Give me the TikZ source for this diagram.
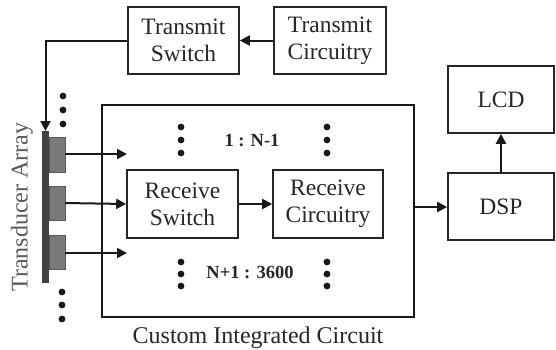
\documentclass[tikz,border=0pt]{standalone}
\usepackage{fontspec}
\setmainfont{Liberation Serif}
\usetikzlibrary{arrows.meta}
\begin{document}
\begin{tikzpicture}[x=1pt,y=-1pt,
  box/.style={draw=black!85, line width=1.6pt, rectangle, inner sep=0pt, align=center,
    font=\fontsize{23.5}{27}\selectfont, text=black!85},
  conn/.style={line width=2pt, draw=black!90, -{Triangle[length=10pt,width=10pt]}},
  dotc/.style={fill=black!90, draw=none},
  elem/.style={fill=black!52, draw=black!65, line width=0.6pt},
  lbl/.style={font=\fontsize{18.5}{22}\selectfont\bfseries, text=black!85}]
\useasboundingbox (0,0) rectangle (556,349);
% boxes
\node[box, minimum width=111pt, minimum height=67pt] (ts) at (183.5,40.5) {Transmit\\Switch};
\node[box, minimum width=112pt, minimum height=67pt] (tc) at (330,40.5) {Transmit\\Circuitry};
\node[draw=black!90, line width=2.6pt, minimum width=312pt, minimum height=212pt, inner sep=0pt] (ic) at (258,211) {};
\node[box, minimum width=111pt, minimum height=68pt] (rs) at (182.5,204) {Receive\\Switch};
\node[box, minimum width=110pt, minimum height=68pt] (rc) at (328,204) {Receive\\Circuitry};
\node[box, minimum width=106pt, minimum height=67pt] (dsp) at (501,206.5) {DSP};
\node[box, minimum width=106pt, minimum height=67pt] (lcd) at (501,99.5) {LCD};
\node[font=\fontsize{24}{28}\selectfont, text=black!85] (iclabel) at (258,338) {Custom Integrated Circuit};
\node[font=\fontsize{24}{28}\selectfont, text=black!65, rotate=90] (talabel) at (22,207) {Transducer Array};
% transducer array
\fill[black!75] (42,131) rectangle (49,283);
\draw[elem] (49,137) rectangle (65,172);
\draw[elem] (49,186) rectangle (65,220);
\draw[elem] (49,235) rectangle (65,269);
\coordinate (bartop) at (45.5,131);
\coordinate (e1) at (65,154);
\coordinate (e2) at (65,203);
\coordinate (e3) at (65,253);
\coordinate (t1) at (127,154);
\coordinate (t3) at (127,253);
% connectors
\draw[conn] (tc.west) -- (ts.east);
\draw[conn] (ts.west) -| (bartop);
\draw[conn] (e1) -- (t1);
\draw[conn] (e2) -- (rs.west);
\draw[conn] (e3) -- (t3);
\draw[conn] (rs.east) -- (rc.west);
\draw[conn] (ic.east |- 0,207) -- (dsp.west |- 0,207);
\draw[conn] (dsp.north) -- (lcd.south);
% dots
\foreach \x/\y in {63/96,63/110,63/124, 62/292,62/305,62/319,
  181/127,181/140,181/153, 327/127,327/140,327/153,
  181/262,181/274,181/286, 327/262,327/274,327/286}
  \fill[dotc] (\x,\y) circle (3.4pt);
% labels
\node[lbl] (l1) at (252,141) {1 : N-1};
\node[lbl] (l2) at (250,272) {N+1 : 3600};
\end{tikzpicture}
\end{document}
